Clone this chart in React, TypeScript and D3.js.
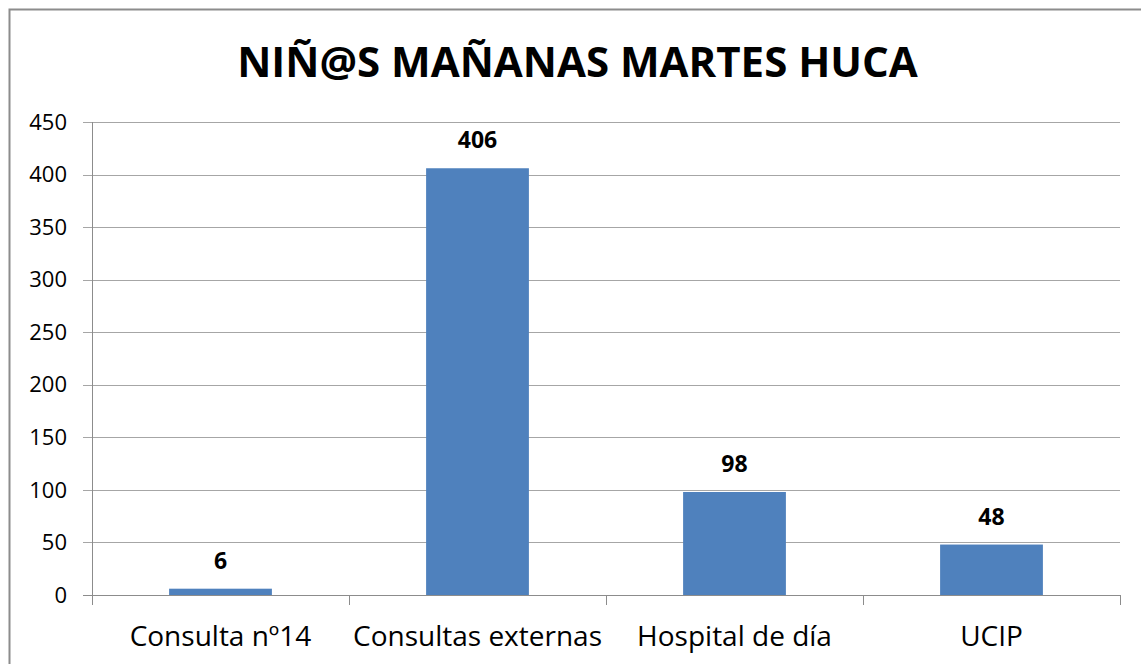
import React from "react";
import * as d3 from "d3";

const title = "NIÑ@S MAÑANAS MARTES HUCA";
const categories = ["Consulta nº14", "Consultas externas", "Hospital de día", "UCIP"];
const values = [6, 406, 98, 48];
const yTicks = [0, 50, 100, 150, 200, 250, 300, 350, 400, 450];

const W = 1141;
const H = 664;
const FONT = "'Open Sans', 'Noto Sans', sans-serif";

export default function App() {
  const x = d3
    .scaleBand<string>()
    .domain(categories)
    .range([92, 1120])
    .paddingInner(0.6)
    .paddingOuter(0.3);
  const y = d3.scaleLinear().domain([0, 450]).range([595, 122]);
  const step = x.step();
  const boundaries = d3.range(categories.length + 1).map((i) => 92 + i * step);

  return (
    <svg
      width={W}
      height={H}
      style={{ position: "absolute", left: 0, top: 0, background: "#fff" }}
    >
      <rect x={9.5} y={9.5} width={1200} height={800} fill="#fff" stroke="#8c8c8c" strokeWidth={2} />
      <text
        x={577.5}
        y={77}
        textAnchor="middle"
        fontFamily={FONT}
        fontWeight="bold"
        fontSize={42}
        fill="#000"
      >
        {title}
      </text>
      {yTicks.map((t) => (
        <g key={t}>
          <line x1={83} x2={1120} y1={Math.round(y(t)) + 0.5} y2={Math.round(y(t)) + 0.5} stroke={t === 0 ? "#8c8c8c" : "#a6a6a6"} strokeWidth={1} />
          <text
            x={67}
            y={y(t)}
            dy="0.35em"
            textAnchor="end"
            fontFamily={FONT}
            fontSize={22}
            fill="#000"
          >
            {t}
          </text>
        </g>
      ))}
      <line x1={92.5} x2={92.5} y1={y(450)} y2={605} stroke="#8c8c8c" />
      {boundaries.slice(1).map((b, i) => (
        <line key={i} x1={Math.round(b) + 0.5} x2={Math.round(b) + 0.5} y1={595} y2={605} stroke="#8c8c8c" />
      ))}
      {categories.map((c, i) => (
        <g key={c}>
          <rect
            x={x(c)}
            y={y(values[i])}
            width={x.bandwidth()}
            height={y(0) - y(values[i])}
            fill="#4F81BD"
          />
          <text
            x={(x(c) as number) + x.bandwidth() / 2}
            y={y(values[i]) - 20}
            textAnchor="middle"
            fontFamily={FONT}
            fontWeight="bold"
            fontSize={23}
            fill="#000"
          >
            {values[i]}
          </text>
          <text
            x={(x(c) as number) + x.bandwidth() / 2}
            y={646}
            textAnchor="middle"
            fontFamily={FONT}
            fontSize={28}
            fill="#000"
          >
            {c}
          </text>
        </g>
      ))}
    </svg>
  );
}
